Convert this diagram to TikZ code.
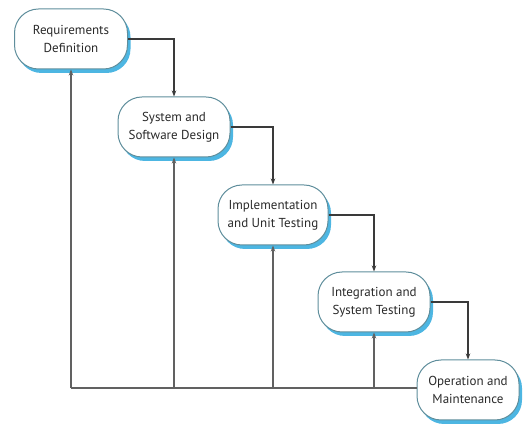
\documentclass[tikz,border=0pt]{standalone}
\usepackage{fontspec}
\setmainfont{PT Sans}
\usetikzlibrary{arrows.meta,shadows}
\definecolor{boxborder}{HTML}{5F8E9C}
\definecolor{boxshadow}{HTML}{4DB6E2}
\definecolor{linegray}{HTML}{3A3A3A}
\definecolor{txtgray}{HTML}{2A2A2A}
\tikzset{
  phase/.style={draw=boxborder, line width=1pt, fill=white, rounded corners=24pt,
    minimum width=#1, minimum height=60pt, align=center, inner sep=2pt,
    text=txtgray, font=\fontsize{13}{18}\selectfont,
    drop shadow={shadow xshift=3pt, shadow yshift=-4pt, fill=boxshadow, opacity=1}},
  flow/.style={draw=linegray, line width=1.1pt, -{Stealth[length=6pt,width=4.5pt]}},
  back/.style={draw=linegray!80, line width=1.1pt}
}
\begin{document}
\begin{tikzpicture}[x=1pt,y=1pt]
\useasboundingbox (0,0) rectangle (524,425);
\node[phase=113pt] (b1) at (71,386) {Requirements\\Definition};
\node[phase=112pt] (b2) at (174,298) {System and\\Software Design};
\node[phase=110pt] (b3) at (273,210) {Implementation\\and Unit Testing};
\node[phase=112pt] (b4) at (374,123) {Integration and\\System Testing};
\node[phase=102pt] (b5) at (468,35) {Operation and\\Maintenance};
% forward flow
\draw[flow] (b1.east) -| (b2.north);
\draw[flow] (b2.east) -| (b3.north);
\draw[flow] (b3.east) -| (b4.north);
\draw[flow] (b4.east) -| (b5.north);
% feedback
\coordinate (fb) at ([yshift=2pt]b5.west);
\draw[back] (fb) -- (fb -| b1.south);
\draw[back,-{Stealth[length=6pt,width=4.5pt]}] (fb -| b1.south) -- (b1.south);
\draw[back,-{Stealth[length=6pt,width=4.5pt]}] (fb -| b2.south) -- (b2.south);
\draw[back,-{Stealth[length=6pt,width=4.5pt]}] (fb -| b3.south) -- (b3.south);
\draw[back,-{Stealth[length=6pt,width=4.5pt]}] (fb -| b4.south) -- (b4.south);
\end{tikzpicture}
\end{document}
